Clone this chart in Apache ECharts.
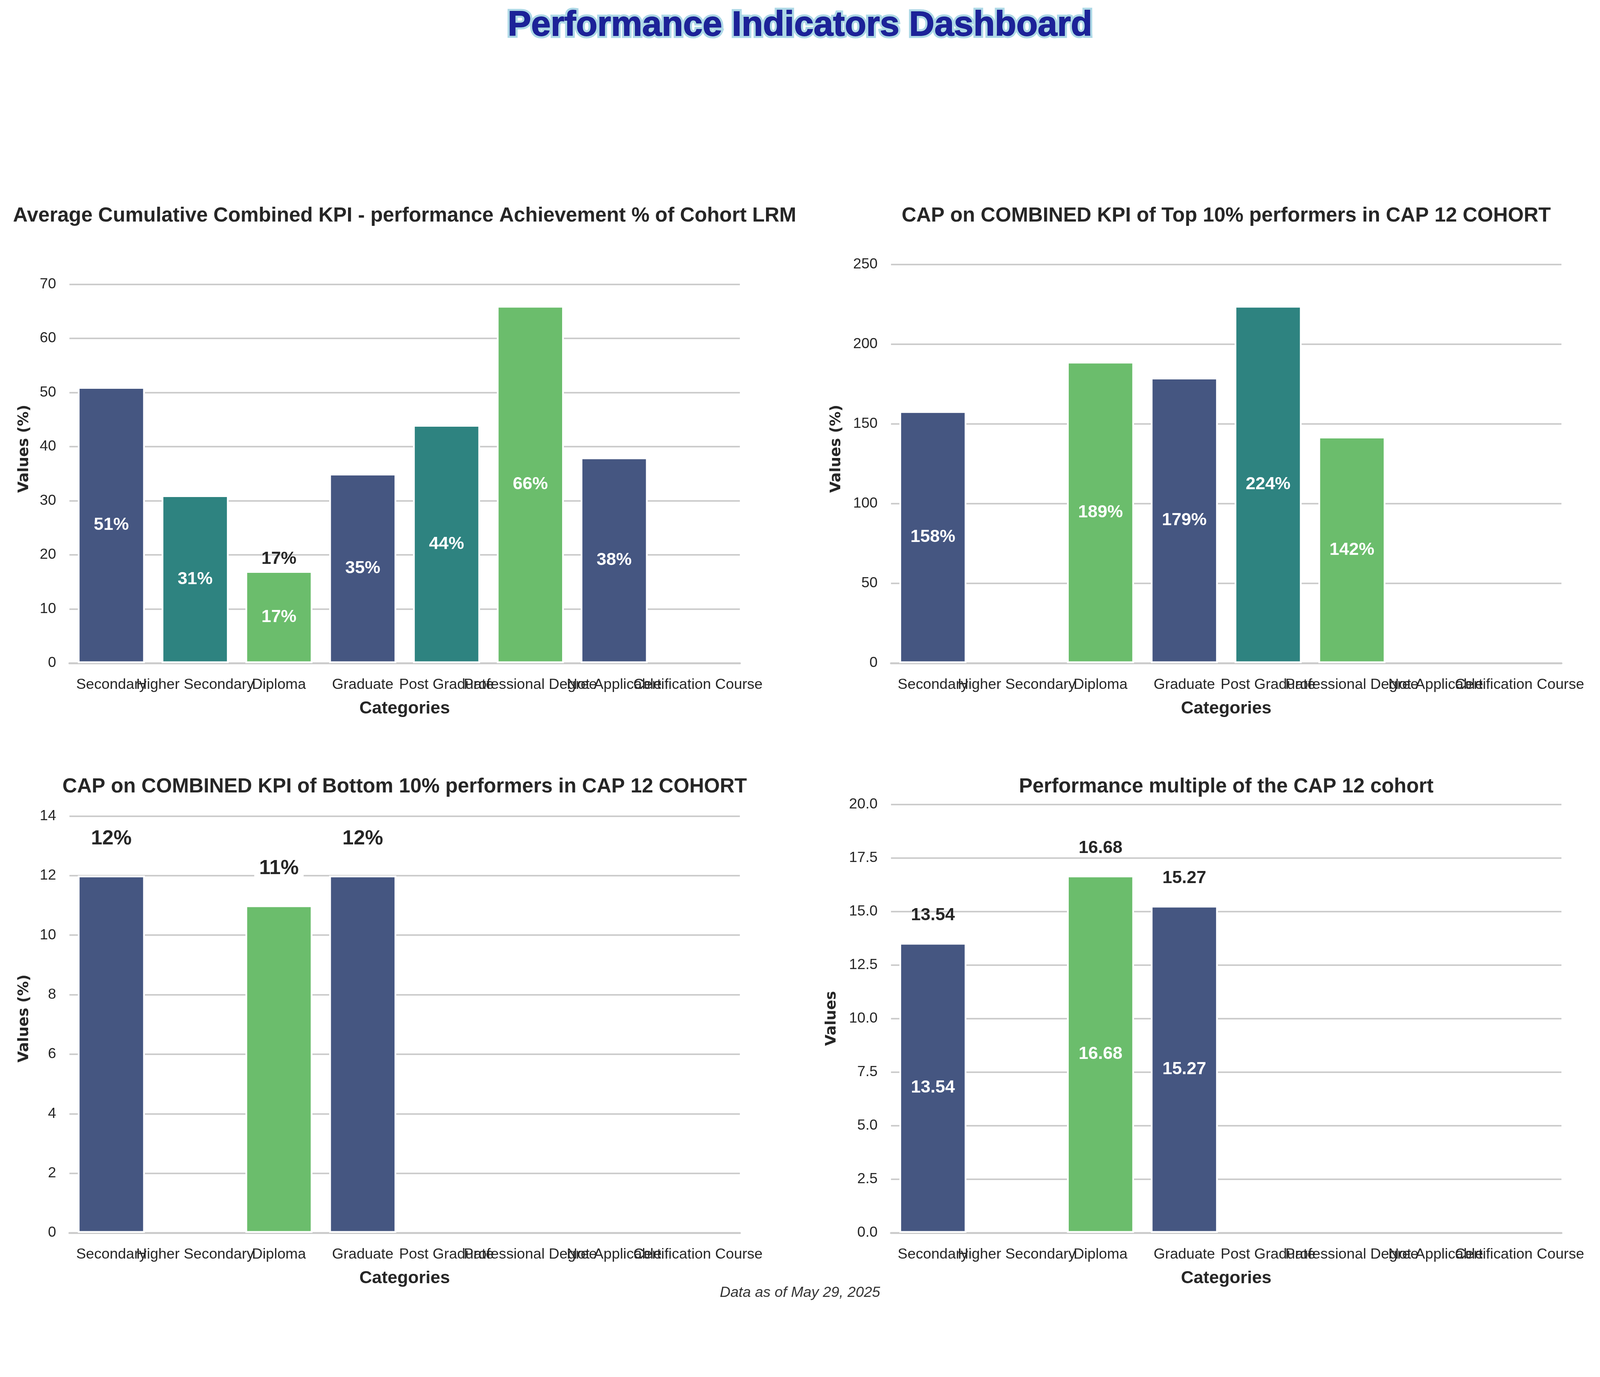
<!DOCTYPE html>
<html>
<head>
    <meta http-equiv="Content-Type" content="text/html; charset=utf-8" />
    <title>Performance Indicators Dashboard</title>
    <script src="https://cdn.jsdelivr.net/npm/echarts@6/dist/echarts.min.js"></script>
</head>
<body style="margin:0;padding:0;background:#ffffff;overflow:hidden;">
    <div id="main" style="width:100vw;height:100vh;"></div>
    <script type="text/javascript">
        // data
        var categories = ['Secondary', 'Higher Secondary', 'Diploma', 'Graduate', 'Post Graduate',
                          'Professional Degree', 'Not Applicable', 'Certification Course'];
        var avgKpi      = [51, 31, 17, 35, 44, 66, 38, null];
        var avgKpiTop   = [null, null, 17, null, null, null, null, null];
        var top10       = [158, null, 189, 179, 224, 142, null, null];
        var bottom10    = [12, null, 11, 12, null, null, null, null];
        var perfMult    = [13.54, null, 16.68, 15.27, null, null, null, null];
        var panelTitles = [
            'Average Cumulative Combined KPI - performance Achievement % of Cohort LRM',
            'CAP on COMBINED KPI of Top 10% performers in CAP 12 COHORT',
            'CAP on COMBINED KPI of Bottom 10% performers in CAP 12 COHORT',
            'Performance multiple of the CAP 12 cohort'
        ];
        var yNames = ['Values (%)', 'Values (%)', 'Values (%)', 'Values'];
        var yIntervals = [10, 50, 2, 2.5];
        var palette = ['#455681', '#2E8380', '#6BBD6C'];

        /*************************************************************
        * layout (designed for 4563 x 3524, scaled to the window)
        *************************************************************/
        var dom = document.getElementById('main');
        var chart = echarts.init(dom, null, {renderer: 'canvas'});
        var W = chart.getWidth(), H = chart.getHeight();
        var sx = W / 4563, sy = H / 3524;
        function px(v) { return v * sx; }   // horizontal sizes and fonts
        function py(v) { return v * sy; }   // vertical positions

        var grids = [
            {left: 198, right: 2453, top: 600, bottom: 1827},
            {left: 2541, right: 110, top: 600, bottom: 1827},
            {left: 198, right: 2453, top: 2058, bottom: 369},
            {left: 2541, right: 110, top: 2058, bottom: 369}
        ];
        var yNameGaps = [107, 134, 107, 148];
        var titleY = [553, 553, 2014, 2014];

        var FONT = '"Liberation Sans", Arial, sans-serif';
        var TXT = '#262626';

        function maxOf(arr) {
            var m = 0;
            for (var i = 0; i < arr.length; i++) if (arr[i] != null && arr[i] > m) m = arr[i];
            return m;
        }
        function pct(p) { return p.value + '%'; }
        function two(p) { return p.value.toFixed(2); }
        function barColor(p) { return palette[p.dataIndex % 3]; }

        var xAxes = [], yAxes = [], series = [], graphics = [];
        var allData = [avgKpi, top10, bottom10, perfMult];

        for (var i = 0; i < 4; i++) {
            xAxes.push({
                gridIndex: i,
                type: 'category',
                data: categories,
                name: 'Categories',
                nameLocation: 'middle',
                nameGap: py(94),
                nameTextStyle: {fontFamily: FONT, fontSize: px(50), fontWeight: 'bold', color: TXT},
                axisLine: {show: true, lineStyle: {color: '#cccccc', width: py(5)}},
                axisTick: {show: false},
                axisLabel: {interval: 0, margin: py(37), fontFamily: FONT, fontSize: px(42), color: TXT, hideOverlap: false},
                splitLine: {show: false}
            });
            yAxes.push({
                gridIndex: i,
                type: 'value',
                min: 0,
                max: maxOf(allData[i]) * 1.2,
                interval: yIntervals[i],
                name: yNames[i],
                nameLocation: 'middle',
                nameGap: px(yNameGaps[i]),
                nameTextStyle: {fontFamily: '"DejaVu Sans", sans-serif', fontSize: px(42), fontWeight: 'bold', color: TXT},
                axisLine: {show: false},
                axisTick: {show: false},
                axisLabel: {
                    margin: px(38), fontFamily: FONT, fontSize: px(42), color: TXT, showMaxLabel: false,
                    formatter: i == 3 ? function (v) { return v.toFixed(1); } : null
                },
                splitLine: {show: true, showMaxLine: false, lineStyle: {color: '#cccccc', width: py(4)}}
            });
            graphics.push({
                type: 'text', x: px((grids[i].left + (4563 - grids[i].right)) / 2), y: py(titleY[i]),
                style: {text: panelTitles[i], font: 'bold ' + px(58) + 'px ' + FONT, fill: TXT,
                        align: 'center', verticalAlign: 'middle', textAlign: 'center', textVerticalAlign: 'middle'}
            });
        }

        function mainBars(idx, data, insideFmt) {
            return {
                type: 'bar', xAxisIndex: idx, yAxisIndex: idx, data: data,
                barWidth: '80%', barGap: '-100%',
                itemStyle: {color: barColor, borderColor: '#ffffff', borderWidth: px(5)},
                label: insideFmt ? {
                    show: true, position: 'inside', color: '#ffffff', fontFamily: FONT,
                    fontSize: px(50), fontWeight: 'bold', formatter: insideFmt
                } : {show: false},
                emphasis: {disabled: true}
            };
        }
        function topLabels(idx, data, fmt, size, dist, bg) {
            return {
                type: 'bar', xAxisIndex: idx, yAxisIndex: idx, data: data,
                barWidth: '80%', barGap: '-100%',
                itemStyle: {color: 'rgba(0,0,0,0)'},
                label: {
                    show: true, position: 'top', distance: py(dist), color: TXT, fontFamily: FONT,
                    fontSize: px(size), fontWeight: 'bold', formatter: fmt,
                    backgroundColor: bg ? '#ffffff' : 'transparent', padding: bg ? [py(2), px(14)] : 0
                },
                emphasis: {disabled: true}
            };
        }

        series.push(mainBars(0, avgKpi, pct));
        series.push(topLabels(0, avgKpiTop, pct, 50, 8, false));
        series.push(mainBars(1, top10, pct));
        series.push(mainBars(2, bottom10, null));
        series.push(topLabels(2, bottom10, pct, 58, 66, true));
        series.push(mainBars(3, perfMult, two));
        series.push(topLabels(3, perfMult, two, 50, 48, false));

        // main title: light blue outline under navy text
        graphics.push({
            type: 'text', x: W / 2, y: py(66), z: 10,
            style: {text: 'Performance Indicators Dashboard', font: 'bold ' + px(100) + 'px ' + FONT,
                    fill: '#ADD8E6', stroke: '#ADD8E6', lineWidth: px(14), lineJoin: 'round',
                    align: 'center', verticalAlign: 'middle', textAlign: 'center', textVerticalAlign: 'middle'}
        });
        graphics.push({
            type: 'text', x: W / 2, y: py(66), z: 11,
            style: {text: 'Performance Indicators Dashboard', font: 'bold ' + px(100) + 'px ' + FONT,
                    fill: '#1c2299', stroke: '#161a86', lineWidth: px(2),
                    align: 'center', verticalAlign: 'middle', textAlign: 'center', textVerticalAlign: 'middle'}
        });
        graphics.push({
            type: 'text', x: W / 2, y: py(3309),
            style: {text: 'Data as of May 29, 2025', font: 'italic ' + px(42) + 'px ' + FONT, fill: '#333333',
                    align: 'center', verticalAlign: 'middle', textAlign: 'center', textVerticalAlign: 'middle'}
        });

        chart.setOption({
            backgroundColor: '#ffffff',
            animation: false,
            grid: grids.map(function (g) {
                return {left: px(g.left), right: px(g.right), top: py(g.top), bottom: py(g.bottom),
                        containLabel: false, outerBoundsMode: 'none'};
            }),
            xAxis: xAxes,
            yAxis: yAxes,
            series: series,
            graphic: graphics
        });
    </script>
</body>
</html>
